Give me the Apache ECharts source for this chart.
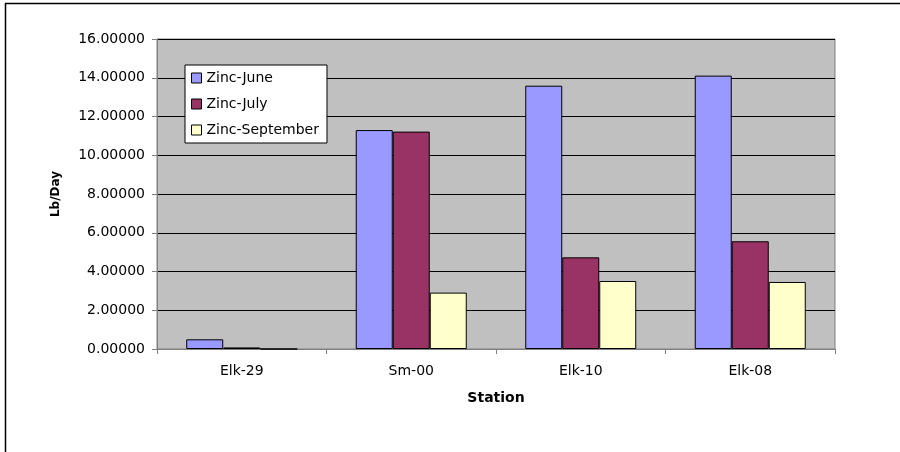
<!DOCTYPE html>
<html>
<head>
<meta charset="utf-8">
<script src="https://cdn.jsdelivr.net/npm/echarts@6/dist/echarts.min.js"></script>
<style>
  html, body { margin: 0; padding: 0; background: #fff; }
  #chart { width: 900px; height: 452px; }
</style>
</head>
<body>
<div id="chart"></div>
<script>
// Zinc load per station, Lb/Day
const stations = ['Elk-29', 'Sm-00', 'Elk-10', 'Elk-08'];
const zincJune = [0.50, 11.30, 13.59, 14.11];
const zincJuly = [0.08, 11.22, 4.73, 5.56];
const zincSeptember = [0.00, 2.91, 3.51, 3.46];
const seriesNames = ['Zinc-June', 'Zinc-July', 'Zinc-September'];
const seriesColors = ['#9999FF', '#993366', '#FFFFCC'];
const yTicks = { min: 0, max: 16, interval: 2 };

const FONT = '"DejaVu Sans", Arial, sans-serif';
const chart = echarts.init(document.getElementById('chart'));

const seriesData = [zincJune, zincJuly, zincSeptember];
const series = seriesData.map((data, i) => ({
  name: seriesNames[i],
  type: 'bar',
  data: data,
  barGap: '0%',
  barCategoryGap: '34.5%',
  itemStyle: { color: seriesColors[i], borderColor: '#000', borderWidth: 1 },
  emphasis: { disabled: true }
}));

chart.setOption({
  animation: false,
  backgroundColor: '#fff',
  grid: {
    left: 157, top: 39, width: 678, height: 310,
    show: true, backgroundColor: '#C0C0C0',
    borderColor: '#808080', borderWidth: 1
  },
  legend: {
    orient: 'vertical',
    left: 185, top: 65,
    itemWidth: 10, itemHeight: 10, itemGap: 12,
    padding: [6, 8, 6, 6],
    backgroundColor: '#fff',
    borderColor: '#000', borderWidth: 1,
    icon: 'rect',
    textStyle: { fontFamily: FONT, fontSize: 14, color: '#000' },
    data: seriesNames.map((n) => ({ name: n, itemStyle: { borderColor: '#000', borderWidth: 1 } }))
  },
  xAxis: {
    type: 'category',
    data: stations,
    name: 'Station',
    nameLocation: 'middle',
    nameGap: 42,
    nameTextStyle: { fontFamily: FONT, fontSize: 14, fontWeight: 'bold', color: '#000' },
    axisLine: { lineStyle: { color: '#808080', width: 1 } },
    axisTick: { show: true, length: 5, lineStyle: { color: '#808080' } },
    axisLabel: { fontFamily: FONT, fontSize: 14, color: '#000', margin: 15 }
  },
  yAxis: {
    type: 'value',
    min: yTicks.min, max: yTicks.max, interval: yTicks.interval,
    name: 'Lb/Day',
    nameLocation: 'middle',
    nameGap: 95,
    nameTextStyle: { fontFamily: FONT, fontSize: 12, fontWeight: 'bold', color: '#000' },
    axisLine: { show: true, lineStyle: { color: '#808080', width: 1 } },
    axisTick: { show: true, length: 5, lineStyle: { color: '#808080' } },
    splitLine: { show: true, lineStyle: { color: '#000', width: 1 } },
    axisLabel: {
      fontFamily: FONT, fontSize: 14, color: '#000', margin: 12,
      formatter: (v) => v.toFixed(5)
    }
  },
  series: series,
  graphic: [
    { type: 'line', shape: { x1: 5, y1: 3.5, x2: 900, y2: 3.5 }, style: { stroke: '#000', lineWidth: 1.5 } },
    { type: 'line', shape: { x1: 5.5, y1: 3, x2: 5.5, y2: 452 }, style: { stroke: '#000', lineWidth: 1.5 } }
  ]
});
</script>
</body>
</html>
